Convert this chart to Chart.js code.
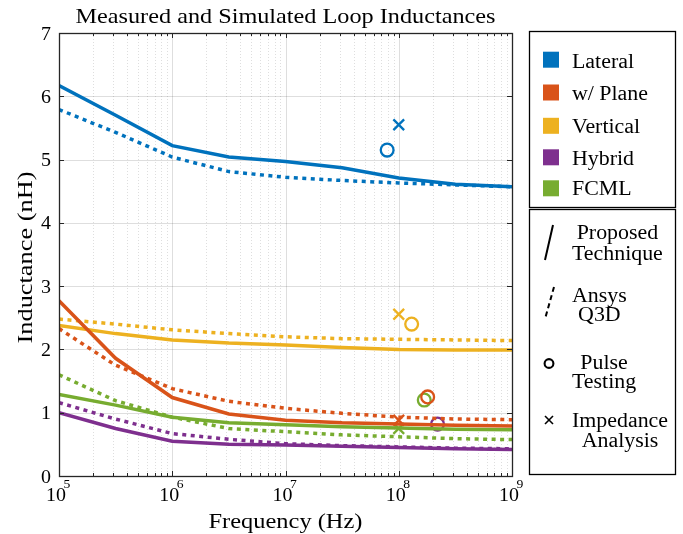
<!DOCTYPE html>
<html><head><meta charset="utf-8">
<script src="https://cdn.jsdelivr.net/npm/chart.js@4"></script>
<style>html,body{margin:0;padding:0;background:#fff}#wrap{width:683px;height:534px}</style>
</head><body><div id="wrap"><canvas id="c" width="683" height="534"></canvas></div>
<script>
// ---------------- data ----------------
const freqs = [1e5, 3.16e5, 1e6, 3.16e6, 1e7, 3.16e7, 1e8, 3.16e8, 1e9];
const lateralProposed  = [6.17, 5.70, 5.22, 5.04, 4.97, 4.87, 4.71, 4.61, 4.57];
const lateralAnsys     = [5.79, 5.43, 5.04, 4.81, 4.72, 4.67, 4.63, 4.60, 4.57];
const planeProposed    = [2.77, 1.86, 1.24, 0.98, 0.88, 0.84, 0.82, 0.80, 0.79];
const planeAnsys       = [2.33, 1.75, 1.38, 1.18, 1.07, 0.99, 0.93, 0.90, 0.89];
const verticalProposed = [2.38, 2.25, 2.15, 2.10, 2.07, 2.03, 2.00, 1.99, 1.99];
const verticalAnsys    = [2.48, 2.40, 2.31, 2.25, 2.20, 2.17, 2.16, 2.15, 2.14];
const hybridProposed   = [1.00, 0.75, 0.55, 0.50, 0.49, 0.47, 0.45, 0.43, 0.42];
const hybridAnsys      = [1.16, 0.90, 0.67, 0.58, 0.51, 0.48, 0.46, 0.44, 0.43];
const fcmlProposed     = [1.29, 1.12, 0.93, 0.84, 0.81, 0.78, 0.76, 0.74, 0.73];
const fcmlAnsys        = [1.60, 1.19, 0.93, 0.75, 0.70, 0.65, 0.62, 0.59, 0.575];

// measured points: [frequency, inductance]
const pulseLateral  = [7.9e7, 5.15];
const pulsePlane    = [1.8e8, 1.25];
const pulseVertical = [1.3e8, 2.40];
const pulseHybrid   = [2.2e8, 0.82];
const pulseFcml     = [1.68e8, 1.20];
const impLateral    = [1e8, 5.55];
const impPlane      = [1e8, 0.88];
const impVertical   = [1e8, 2.555];
const impFcml       = [1e8, 0.75];

const seriesNames = ['Lateral', 'w/ Plane', 'Vertical', 'Hybrid', 'FCML'];
const xTickExps = [5, 6, 7, 8, 9];
const yTicks = [0, 1, 2, 3, 4, 5, 6, 7];

// ---------------- styles ----------------
const COL = ['#0072BD', '#D95319', '#EDB120', '#7E2F8E', '#77AC30'];
const FONT = '"Liberation Serif", "Times New Roman", serif';

const pts = arr => arr.map((v, i) => ({x: freqs[i], y: v}));
function lineDs(arr, c, dotted) {
  return {data: pts(arr), borderColor: c, backgroundColor: c, borderWidth: 3.5,
    pointRadius: 0, tension: 0, fill: false, borderCapStyle: 'butt',
    borderDash: dotted ? [4, 4.5] : []};
}
function markDs(p, c, style) {
  return {data: [{x: p[0], y: p[1]}], showLine: false, borderColor: c,
    backgroundColor: 'rgba(0,0,0,0)', pointStyle: style,
    pointRadius: style === 'circle' ? 6.4 : 7.6, pointBorderWidth: 2.3,
    pointBorderColor: c, pointBackgroundColor: 'rgba(0,0,0,0)', clip: false};
}

const datasets = [
  lineDs(lateralProposed, COL[0], false), lineDs(lateralAnsys, COL[0], true),
  lineDs(planeProposed, COL[1], false), lineDs(planeAnsys, COL[1], true),
  lineDs(verticalProposed, COL[2], false), lineDs(verticalAnsys, COL[2], true),
  lineDs(hybridProposed, COL[3], false), lineDs(hybridAnsys, COL[3], true),
  lineDs(fcmlProposed, COL[4], false), lineDs(fcmlAnsys, COL[4], true),
  markDs(pulseLateral, COL[0], 'circle'), markDs(impLateral, COL[0], 'crossRot'),
  markDs(pulsePlane, COL[1], 'circle'), markDs(impPlane, COL[1], 'crossRot'),
  markDs(pulseVertical, COL[2], 'circle'), markDs(impVertical, COL[2], 'crossRot'),
  markDs(pulseHybrid, COL[3], 'circle'),
  markDs(pulseFcml, COL[4], 'circle'), markDs(impFcml, COL[4], 'crossRot'),
];

function seg(ctx, x1, y1, x2, y2) { ctx.beginPath(); ctx.moveTo(x1, y1); ctx.lineTo(x2, y2); ctx.stroke(); }
function txt(ctx, s, x, y, size, sx, align) {
  ctx.save();
  ctx.font = size + 'px ' + FONT;
  ctx.textAlign = align || 'left';
  ctx.translate(x, y);
  ctx.scale(sx, 1);
  ctx.fillText(s, 0, 0);
  ctx.restore();
}
function widthOf(ctx, s, size) { ctx.save(); ctx.font = size + 'px ' + FONT; const w = ctx.measureText(s).width; ctx.restore(); return w; }

const custom = {
  id: 'custom',
  beforeDatasetsDraw(chart) {
    const {ctx, chartArea: a, scales: {x, y}} = chart;
    ctx.save();
    ctx.lineWidth = 1;
    ctx.strokeStyle = 'rgba(0,0,0,0.13)';
    ctx.setLineDash([1, 2]);
    for (let e = 5; e < 9; e++) for (let k = 2; k < 10; k++) {
      const px = Math.round(x.getPixelForValue(k * Math.pow(10, e))) + 0.5;
      seg(ctx, px, a.top, px, a.bottom);
    }
    ctx.setLineDash([]);
    ctx.strokeStyle = 'rgba(0,0,0,0.13)';
    xTickExps.forEach(e => { const px = Math.round(x.getPixelForValue(Math.pow(10, e))) + 0.5; seg(ctx, px, a.top, px, a.bottom); });
    yTicks.forEach(v => { const py = Math.round(y.getPixelForValue(v)) + 0.5; seg(ctx, a.left, py, a.right, py); });
    ctx.restore();
  },
  afterDatasetsDraw(chart) {
    const {ctx, chartArea: a, scales: {x, y}} = chart;
    ctx.save();
    ctx.strokeStyle = '#262626';
    ctx.lineWidth = 1;
    for (let e = 5; e < 9; e++) for (let k = 2; k < 10; k++) {
      const px = Math.round(x.getPixelForValue(k * Math.pow(10, e))) + 0.5;
      seg(ctx, px, a.bottom, px, a.bottom - 3); seg(ctx, px, a.top, px, a.top + 3);
    }
    xTickExps.forEach(e => { const px = Math.round(x.getPixelForValue(Math.pow(10, e))) + 0.5;
      seg(ctx, px, a.bottom, px, a.bottom - 5); seg(ctx, px, a.top, px, a.top + 5); });
    yTicks.forEach(v => { const py = Math.round(y.getPixelForValue(v)) + 0.5;
      seg(ctx, a.left, py, a.left + 5, py); seg(ctx, a.right, py, a.right - 5, py); });
    ctx.lineWidth = 1.3;
    ctx.strokeRect(Math.round(a.left) + 0.5, Math.round(a.top) + 0.5, Math.round(a.right - a.left), Math.round(a.bottom - a.top));

    ctx.fillStyle = '#000';
    ctx.textBaseline = 'alphabetic';
    yTicks.forEach(v => txt(ctx, String(v), a.left - 8, y.getPixelForValue(v) + 6.5, 19, 1.05, 'right'));
    xTickExps.forEach(e => {
      const px = x.getPixelForValue(Math.pow(10, e));
      const w1 = widthOf(ctx, '10', 19) * 1.05, w2 = widthOf(ctx, String(e), 13) * 1.05;
      const left = px - (w1 + w2) / 2 + 0.5;
      txt(ctx, '10', left, 500.5, 19, 1.05, 'left');
      txt(ctx, String(e), left + w1 - 2.5, 488, 13, 1.05, 'left');
    });
    const cx = (a.left + a.right) / 2;
    const fw = widthOf(ctx, 'Frequency (Hz)', 22);
    txt(ctx, 'Frequency (Hz)', cx, 528, 22, 154 / fw, 'center');
    const iw = widthOf(ctx, 'Inductance (nH)', 22);
    ctx.save();
    ctx.translate(32, 257.5);
    ctx.rotate(-Math.PI / 2);
    txt(ctx, 'Inductance (nH)', 0, 0, 22, 172 / iw, 'center');
    ctx.restore();
    const tw = widthOf(ctx, 'Measured and Simulated Loop Inductances', 22);
    txt(ctx, 'Measured and Simulated Loop Inductances', cx, 23, 22, 420 / tw, 'center');

    // legend boxes
    ctx.strokeStyle = '#000'; ctx.lineWidth = 1.3;
    ctx.strokeRect(529.5, 31.5, 146, 176);
    ctx.strokeRect(529.5, 209.5, 146, 265);
    const lsx = 96 / widthOf(ctx, 'Impedance', 20);
    const rowY = [59.7, 92.5, 125.8, 157.3, 188.3];
    const baseY = [67.7, 100, 133.3, 165, 195];
    seriesNames.forEach((n, i) => {
      ctx.fillStyle = COL[i];
      ctx.fillRect(543, rowY[i] - 8, 16, 16);
      ctx.fillStyle = '#000';
      txt(ctx, n, 572, baseY[i], 20, lsx, 'left');
    });
    ctx.strokeStyle = '#000';
    ctx.lineWidth = 2;
    seg(ctx, 553, 225, 545, 260);
    ctx.setLineDash([5, 3.5]);
    seg(ctx, 554, 287, 545, 319);
    ctx.setLineDash([]);
    ctx.beginPath(); ctx.arc(549, 363.5, 4.4, 0, Math.PI * 2); ctx.lineWidth = 2.1; ctx.stroke();
    ctx.lineWidth = 1.6;
    seg(ctx, 545, 416, 553, 424); seg(ctx, 545, 424, 553, 416);
    const entries = [[['Proposed', 239], ['Technique', 260]], [['Ansys', 301.5], ['Q3D', 320.5]],
                     [['Pulse', 368.5], ['Testing', 388]], [['Impedance', 427], ['Analysis', 447]]];
    entries.forEach(en => {
      const mw = Math.max(...en.map(l => widthOf(ctx, l[0], 20) * lsx));
      en.forEach(l => txt(ctx, l[0], 572 + mw / 2, l[1], 20, lsx, 'center'));
    });
    ctx.restore();
  }
};

new Chart(document.getElementById('c'), {
  type: 'line',
  data: {datasets},
  options: {
    responsive: false, animation: false, events: [],
    layout: {padding: {top: 33, right: 171, left: 0, bottom: 0}},
    plugins: {legend: {display: false}, tooltip: {enabled: false}, title: {display: false}},
    scales: {
      x: {type: 'logarithmic', min: 1e5, max: 1e9,
          ticks: {display: false}, grid: {display: false}, border: {display: false},
          afterFit(s) { s.height = 58; }},
      y: {type: 'linear', min: 0, max: 7,
          ticks: {display: false}, grid: {display: false}, border: {display: false},
          afterFit(s) { s.width = 59; }}
    }
  },
  plugins: [custom]
});
</script>
</body></html>
